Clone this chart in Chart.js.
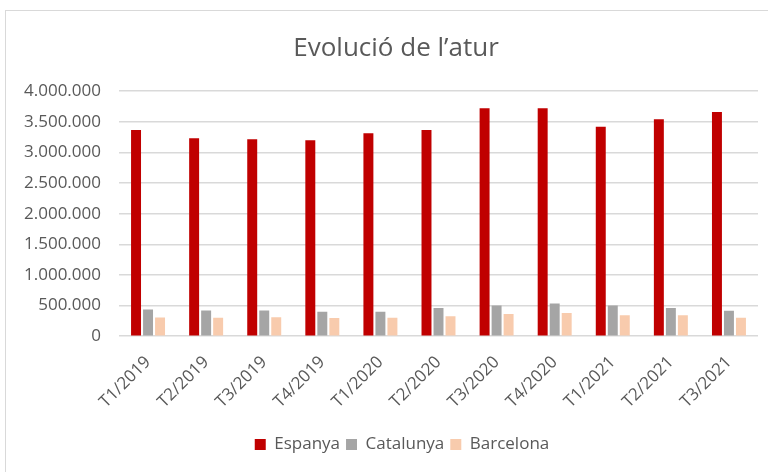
<!DOCTYPE html>
<html>
<head>
<meta charset="utf-8">
<script src="https://cdn.jsdelivr.net/npm/chart.js@4.4.1/dist/chart.umd.min.js"></script>
<style>
  html, body { margin: 0; padding: 0; background: #fff; overflow: hidden; }
  #frame { position: absolute; left: 5px; top: 10px; width: 782px; height: 470px; border: 1px solid #d9d9d9; box-sizing: border-box; }
  #frame canvas { display: block; }
</style>
</head>
<body>
<div id="frame"><canvas id="chart" width="780" height="468"></canvas></div>
<script>
const periods = ['T1/2019', 'T2/2019', 'T3/2019', 'T4/2019', 'T1/2020', 'T2/2020', 'T3/2020', 'T4/2020', 'T1/2021', 'T2/2021', 'T3/2021'];
const espanya = [3365000, 3230000, 3214000, 3199000, 3314000, 3368000, 3723000, 3720000, 3419000, 3544000, 3660000];
const catalunya = [435000, 418000, 418000, 398000, 400000, 462000, 500000, 532000, 500000, 462000, 415000];
const barcelona = [304000, 300000, 310000, 298000, 300000, 326000, 364000, 380000, 342000, 342000, 300000];
const yTicks = [0, 500000, 1000000, 1500000, 2000000, 2500000, 3000000, 3500000, 4000000];

const TEXT = '#595959';
const FONT = "'Open Sans', 'Noto Sans', sans-serif";
const fmt = n => n.toString().replace(/\B(?=(\d{3})+(?!\d))/g, '.');

Chart.defaults.font.family = FONT;
Chart.defaults.color = TEXT;

// title & legend sit a bit right of the canvas centre in the original
const nudge = {
  id: 'nudge',
  afterLayout(chart) {
    const t = chart.titleBlock, l = chart.legend;
    if (t) { t.left += 14; t.right += 14; }
    if (l) { l.left += 20; l.right += 20; }
  }
};

new Chart(document.getElementById('chart'), {
  type: 'bar',
  data: {
    labels: periods,
    datasets: [
      { label: 'Espanya', data: espanya, backgroundColor: '#c00000' },
      { label: 'Catalunya', data: catalunya, backgroundColor: '#a5a5a5' },
      { label: 'Barcelona', data: barcelona, backgroundColor: '#f8cbad' }
    ]
  },
  plugins: [nudge],
  options: {
    responsive: false,
    animation: false,
    datasets: { bar: { categoryPercentage: 0.62, barPercentage: 0.83 } },
    layout: { padding: { left: 0, right: 28, top: 0, bottom: 16 } },
    plugins: {
      title: {
        display: true,
        text: 'Evolució de l’atur',
        color: TEXT,
        font: { size: 26, weight: 'normal' },
        padding: { top: 22, bottom: 27 }
      },
      legend: {
        position: 'bottom',
        labels: { boxWidth: 11, boxHeight: 11, padding: 6, font: { size: 17 }, color: TEXT }
      },
      tooltip: { enabled: false }
    },
    scales: {
      x: {
        grid: { display: false },
        border: { display: false },
        afterFit: s => { s.height += 10; },
        ticks: { minRotation: 45, maxRotation: 45, font: { size: 17 }, color: TEXT, padding: 8 }
      },
      y: {
        min: 0,
        max: 4000000,
        afterBuildTicks: s => { s.ticks = yTicks.map(v => ({ value: v })); },
        afterFit: s => { s.width = 113; },
        grid: { color: '#d9d9d9', lineWidth: 1.5, drawTicks: false },
        border: { display: false },
        ticks: { callback: v => fmt(v), font: { size: 17 }, color: TEXT, padding: 18 }
      }
    }
  }
});
</script>
</body>
</html>
